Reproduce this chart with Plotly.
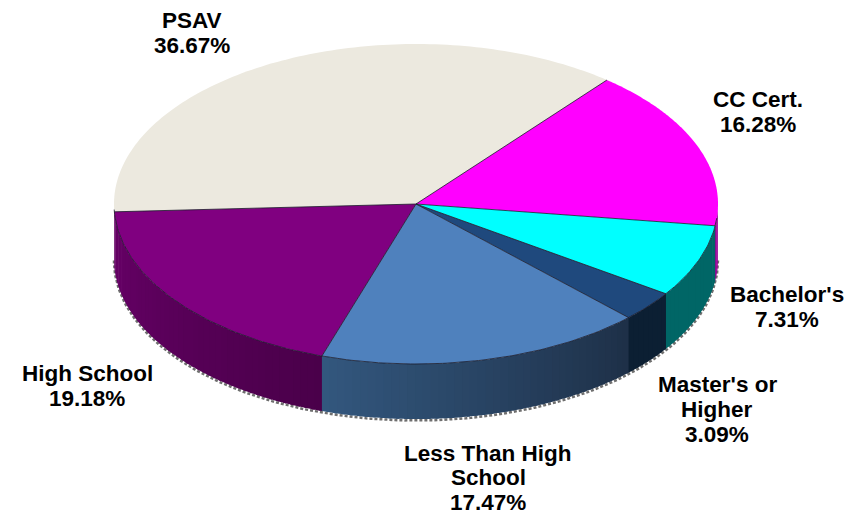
import numpy as np
import plotly.graph_objects as go

categories = ["PSAV", "CC Cert.", "Bachelor's", "Master's or<br>Higher", "Less Than High<br>School", "High School"]
values = [36.67, 16.28, 7.31, 3.09, 17.47, 19.18]

top_colors = ["#ECE9DF", "#FF00FF", "#00FFFF", "#1F497D", "#4F81BD", "#800080"]
side_left = ["#B8B5AA", "#990099", "#006666", "#0C1F33", "#33587F", "#680068"]
side_right = ["#B8B5AA", "#990099", "#006666", "#0C1F33", "#1E3048", "#4A004A"]
label_x = [192, 758, 787, 717, 488, 87]
label_top = [20, 99, 294, 384, 453, 373]
label_step = [25, 25, 25, 25, 24.5, 25]

CX, CY, RX, RY, DEPTH = 416, 204, 302, 160, 55
START = -92.8


def ell(t):
    r = np.radians(t)
    return CX + RX * np.sin(r), CY - RY * np.cos(r)


def mix(a, b, f):
    ca = [int(a[i:i + 2], 16) for i in (1, 3, 5)]
    cb = [int(b[i:i + 2], 16) for i in (1, 3, 5)]
    return "rgb(%d,%d,%d)" % tuple(round(x + (y - x) * f) for x, y in zip(ca, cb))


total = sum(values)
edges = [START]
for v in values:
    edges.append(edges[-1] + v / total * 360)

fig = go.Figure()

# rim shadow under the front edge
tb = np.linspace(90, 270, 200)
bx, by = ell(tb)
fig.add_trace(go.Scatter(x=bx, y=by + DEPTH + 1.5, mode="lines",
                         line=dict(color="#6E6E6E", width=2.5, dash="3px,2px"),
                         hoverinfo="skip"))

# front wall, drawn as narrow strips so each slice can shade from left to right
for i, col in enumerate(top_colors):
    a0, a1 = edges[i], edges[i + 1]
    arcs = [(a0, a1), (a0 + 360, a1 + 360)]
    for s, e in arcs:
        lo, hi = max(s, 90), min(e, 270)
        if hi <= lo:
            continue
        n = max(2, int((hi - lo) / 1.5) + 1)
        steps = np.linspace(lo, hi, n + 1)
        for k in range(n):
            ts = np.linspace(steps[k], min(steps[k + 1] + 0.6, 270), 4)
            x, y = ell(ts)
            f = (steps[k] - lo) / max(hi - lo, 1e-6)
            c = mix(side_right[i], side_left[i], f)
            fig.add_trace(go.Scatter(
                x=np.concatenate([x, x[::-1]]),
                y=np.concatenate([y, y[::-1] + DEPTH]),
                mode="none", fill="toself", fillcolor=c,
                hoverinfo="skip"))

# top face
for i, col in enumerate(top_colors):
    ts = np.linspace(edges[i], edges[i + 1], 120)
    x, y = ell(ts)
    fig.add_trace(go.Scatter(
        x=np.concatenate([[CX], x, [CX]]),
        y=np.concatenate([[CY], y, [CY]]),
        mode="none", fill="toself", fillcolor=col, hoverinfo="skip"))

# thin dark seams between slices and along the front of the top face
for e in edges[:-1]:
    x, y = ell(np.array([e]))
    fig.add_trace(go.Scatter(x=[CX, x[0]], y=[CY, y[0]], mode="lines",
                             line=dict(color="#1A1A2A", width=0.8), hoverinfo="skip"))
x, y = ell(np.linspace(95, 268, 200))
fig.add_trace(go.Scatter(x=x, y=y, mode="lines",
                         line=dict(color="#1A1A2A", width=0.8), hoverinfo="skip"))

for name, v, lx, ly, step in zip(categories, values, label_x, label_top, label_step):
    lines = name.split("<br>") + [f"{v:.2f}%"]
    for j, line in enumerate(lines):
        fig.add_annotation(x=lx, y=ly + j * step, xref="x", yref="y", showarrow=False,
                           text=f"<b>{line}</b>", align="center",
                           font=dict(family="Liberation Sans", size=22.5, color="#000000"))

fig.update_layout(
    width=863, height=515, margin=dict(l=0, r=0, t=0, b=0),
    paper_bgcolor="#FFFFFF", plot_bgcolor="#FFFFFF", showlegend=False,
    xaxis=dict(range=[0, 863], visible=False, fixedrange=True),
    yaxis=dict(range=[515, 0], visible=False, fixedrange=True),
)
fig.write_html("out.html", config={"displayModeBar": False},
               post_script="document.body.style.margin='0';document.body.style.overflow='hidden';")
